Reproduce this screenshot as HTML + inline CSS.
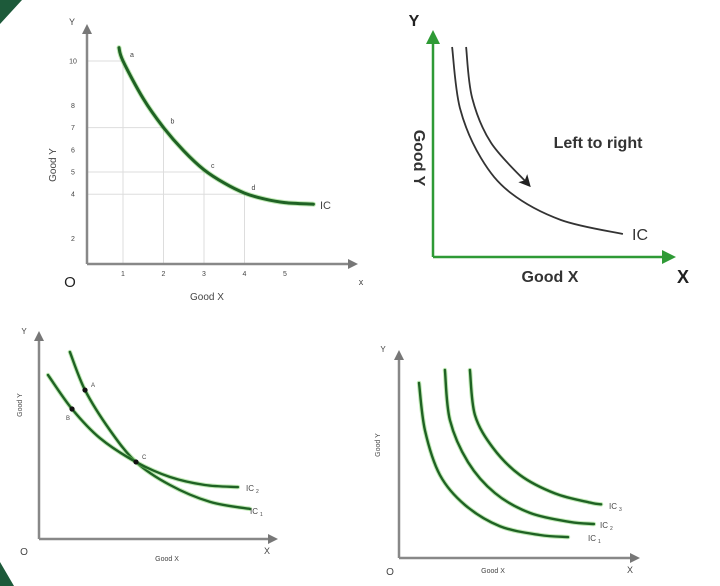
<!DOCTYPE html>
<html><head><meta charset="utf-8">
<style>
html,body{margin:0;padding:0;background:#fff;}
svg{display:block;font-family:"Liberation Sans",sans-serif;}
</style></head>
<body>
<svg id="s" width="720" height="586" viewBox="0 0 720 586" xmlns="http://www.w3.org/2000/svg">
<defs>
<marker id="ag" markerWidth="10" markerHeight="10" refX="6" refY="5" orient="auto" markerUnits="userSpaceOnUse"><path d="M0,0 L10,5 L0,10 z" fill="#777"/></marker>
<marker id="agr" markerWidth="14" markerHeight="14" refX="8" refY="7" orient="auto" markerUnits="userSpaceOnUse"><path d="M0,0 L14,7 L0,14 z" fill="#2e9a35"/></marker>
<marker id="ab" markerWidth="12" markerHeight="12" refX="8" refY="6" orient="auto" markerUnits="userSpaceOnUse"><path d="M0,0 L12,6 L0,12 L3,6 z" fill="#222"/></marker>
</defs>
<polygon points="0,0 22,0 0,24" fill="#1d5a3a"/>
<polygon points="0,562 14,586 0,586" fill="#1d5a3a"/>
<g id="g1"></g>
<g id="g2"></g>
<g id="g3"></g>
<g id="g4"></g>
</svg>
<script>
// Panel 1 data
const p1XTicks=[1,2,3,4,5];
const p1YTicks=[10,8,7,6,5,4,2];
const p1GridX=[1,2,3,4];
const p1GridY=[10,7,5,4];
const p1CurveX=[0.9,1,1.5,2,2.5,3,3.5,4,4.5,5,5.7];
const p1CurveY=[10.6,10,8.3,7.0,5.95,5.1,4.5,4.05,3.78,3.62,3.55];
const p1PointLabels=["a","b","c","d"];
const p1PointX=[1,2,3,4];
const p1PointY=[10,7,5,4];
// Panel 2 data
const p2OuterX=[0.78,1.1,1.96,3.18,5.22,7.75];
const p2OuterY=[9.13,6.48,4.3,2.78,1.61,1.0];
const p2ArrowX=[1.35,1.6,2.37,3.88];
const p2ArrowY=[9.13,6.91,4.96,3.17];
// Panel 3 data
const p3IC1X=[1.31,1.95,3.0,4.11,5.55,7.25,8.94];
const p3IC1Y=[9.08,7.23,5.29,3.74,2.62,1.80,1.46];
const p3IC2X=[0.38,1.4,2.58,4.11,5.55,7.03,8.43];
const p3IC2Y=[7.96,6.31,4.9,3.74,3.01,2.62,2.52];
const p3PointLabels=["A","B","C"];
const p3PointX=[1.95,1.4,4.11];
const p3PointY=[7.23,6.31,3.74];
// Panel 4 data
const p4IC1X=[0.84,1.09,1.72,2.77,4.24,5.92,7.1];
const p4IC1Y=[8.54,6.24,4.05,2.59,1.55,1.12,1.02];
const p4IC2X=[1.93,2.14,2.9,4.03,5.5,7.18,8.19];
const p4IC2Y=[9.17,6.73,4.68,3.17,2.2,1.76,1.66];
const p4IC3X=[2.98,3.19,3.95,5.08,6.55,8.03,8.49];
const p4IC3Y=[9.17,6.98,5.37,4.05,3.15,2.7,2.62];

const NS="http://www.w3.org/2000/svg";
function mk(parent,tag,attrs,text){const e=document.createElementNS(NS,tag);for(const k in attrs)e.setAttribute(k,attrs[k]);if(text!==undefined)e.textContent=text;parent.appendChild(e);return e;}
function smooth(pts){let d="M"+pts[0][0].toFixed(1)+","+pts[0][1].toFixed(1);
 for(let i=0;i<pts.length-1;i++){const p0=pts[i-1]||pts[i],p1=pts[i],p2=pts[i+1],p3=pts[i+2]||p2;
  const c1=[p1[0]+(p2[0]-p0[0])/6,p1[1]+(p2[1]-p0[1])/6],c2=[p2[0]-(p3[0]-p1[0])/6,p2[1]-(p3[1]-p1[1])/6];
  d+=" C"+c1[0].toFixed(1)+","+c1[1].toFixed(1)+" "+c2[0].toFixed(1)+","+c2[1].toFixed(1)+" "+p2[0].toFixed(1)+","+p2[1].toFixed(1);}
 return d;}
function pts(xs,ys,sx,sy){return xs.map((x,i)=>[sx(x),sy(ys[i])]);}
function greenCurve(g,xs,ys,sx,sy,name,w){
 const glow=mk(g,"path",{d:smooth(pts(xs,ys,sx,sy)),fill:"none",stroke:"#7fd36a",'stroke-width':w+2,'stroke-opacity':0.5,'stroke-linecap':'round'});
 
 
 const p=mk(g,"path",{d:smooth(pts(xs,ys,sx,sy)),fill:"none",stroke:"#1f6224",'stroke-width':w,'stroke-linecap':'round'});
 
 
 return p;}
function txt(g,x,y,s,size,attrs,name){const t=mk(g,"text",Object.assign({x:x,y:y,'font-size':size,fill:'#444'},attrs||{}),s);
 
 return t;}
function axes(g,ox,oy,top,right,name){
 const a=mk(g,"path",{d:`M${ox},${oy} L${ox},${top}`,stroke:"#888",'stroke-width':2.5,'marker-end':'url(#ag)',fill:'none'});
 
 
 const b=mk(g,"path",{d:`M${ox},${oy} L${right},${oy}`,stroke:"#888",'stroke-width':2.5,'marker-end':'url(#ag)',fill:'none'});
 
 }

// ---- Panel 1
(function(){const g=document.getElementById("g1");
 const sx=v=>82.5+v*40.5, sy=v=>283-v*22.2, ox=87, oy=264;
 p1GridX.forEach((v,i)=>{const l=mk(g,"line",{x1:sx(v),x2:sx(v),y1:sy(p1PointY[i]),y2:oy,stroke:"#ddd",'stroke-width':1});
  
  });
 p1GridY.forEach((v,i)=>{const l=mk(g,"line",{x1:ox,x2:sx(p1PointX[i]),y1:sy(v),y2:sy(v),stroke:"#ddd",'stroke-width':1});
  
  });
 axes(g,ox,oy,28,354,'p1');
 p1XTicks.forEach(v=>txt(g,sx(v),276,String(v),7,{'text-anchor':'middle'},'x-tick-'+v));
 p1YTicks.forEach(v=>txt(g,73,sy(v)+2.5,String(v),7,{'text-anchor':'middle'},'y-tick-'+v));
 greenCurve(g,p1CurveX,p1CurveY,sx,sy,'ic-curve',3);
 p1PointLabels.forEach((s,i)=>txt(g,sx(p1PointX[i])+7,sy(p1PointY[i])-4,s,7,{},'point-label-'+s));
 txt(g,320,209,"IC",11,{},'ic-label');
 txt(g,72,25,"Y",9,{'text-anchor':'middle'},'y-axis-letter');
 txt(g,361,285,"x",9,{'text-anchor':'middle'},'x-axis-letter');
 txt(g,70,287,"O",15,{'text-anchor':'middle',fill:'#222'},'origin-label');
 txt(g,207,300,"Good X",10,{'text-anchor':'middle'},'x-axis-title');
 txt(g,56,165,"Good Y",10,{'text-anchor':'middle',transform:'rotate(-90 56 165)'},'y-axis-title');
})();
// ---- Panel 2
(function(){const g=document.getElementById("g2");
 const sx=v=>433+v*24.5, sy=v=>257-v*23;
 let a=mk(g,"path",{d:"M433,257 L433,36",stroke:"#2e9a35",'stroke-width':2.5,'marker-end':'url(#agr)',fill:'none'});
 
 
 a=mk(g,"path",{d:"M433,257 L670,257",stroke:"#2e9a35",'stroke-width':2.5,'marker-end':'url(#agr)',fill:'none'});
 
 
 let c=mk(g,"path",{d:smooth(pts(p2OuterX,p2OuterY,sx,sy)),fill:'none',stroke:'#333','stroke-width':1.8});
 
 
 c=mk(g,"path",{d:smooth(pts(p2ArrowX,p2ArrowY,sx,sy)),fill:'none',stroke:'#333','stroke-width':1.8,'marker-end':'url(#ab)'});
 
 
 txt(g,598,148,"Left to right",16,{'text-anchor':'middle',fill:'#333','font-weight':'bold'},'left-to-right-label');
 txt(g,632,240,"IC",16,{fill:'#333'},'ic-label');
 txt(g,550,282,"Good X",16,{'text-anchor':'middle',fill:'#333','font-weight':'bold'},'x-axis-title');
 txt(g,683,283,"X",18,{'text-anchor':'middle',fill:'#222','font-weight':'bold'},'x-axis-letter');
 txt(g,414,26,"Y",16,{'text-anchor':'middle',fill:'#222','font-weight':'bold'},'y-axis-letter');
 txt(g,425,147,"Good Y",16,{'text-anchor':'middle',fill:'#333','font-weight':'bold',transform:'rotate(90 414 147)'},'y-axis-title');
})();
// ---- Panel 3
(function(){const g=document.getElementById("g3");
 const sx=v=>39+v*23.6, sy=v=>539-v*20.6;
 axes(g,39,539,335,274,'p3');
 greenCurve(g,p3IC1X,p3IC1Y,sx,sy,'ic1-curve',2.4);
 greenCurve(g,p3IC2X,p3IC2Y,sx,sy,'ic2-curve',2.4);
 p3PointLabels.forEach((s,i)=>{const d=mk(g,"circle",{cx:sx(p3PointX[i]),cy:sy(p3PointY[i]),r:2.6,fill:'#111'});
  
  
  const off=s==="B"?[-6,11]:[6,-3];
  txt(g,sx(p3PointX[i])+off[0],sy(p3PointY[i])+off[1],s,6,{},'point-label-'+s);});
 txt(g,246,491,"IC",8,{},'ic2-label');txt(g,256,493,"2",5,{},'ic2-sub');
 txt(g,250,514,"IC",8,{},'ic1-label');txt(g,260,516,"1",5,{},'ic1-sub');
 txt(g,167,561,"Good X",7,{'text-anchor':'middle'},'x-axis-title');
 txt(g,267,554,"X",9,{'text-anchor':'middle'},'x-axis-letter');
 txt(g,24,555,"O",10,{'text-anchor':'middle'},'origin-label');
 txt(g,24,334,"Y",8,{'text-anchor':'middle'},'y-axis-letter');
 txt(g,22,405,"Good Y",7,{'text-anchor':'middle',transform:'rotate(-90 22 405)'},'y-axis-title');
})();
// ---- Panel 4
(function(){const g=document.getElementById("g4");
 const sx=v=>399+v*23.8, sy=v=>558-v*20.5;
 axes(g,399,558,354,636,'p4');
 greenCurve(g,p4IC1X,p4IC1Y,sx,sy,'ic1-curve',2.4);
 greenCurve(g,p4IC2X,p4IC2Y,sx,sy,'ic2-curve',2.4);
 greenCurve(g,p4IC3X,p4IC3Y,sx,sy,'ic3-curve',2.4);
 txt(g,588,541,"IC",8,{},'ic1-label');txt(g,598,543,"1",5,{},'ic1-sub');
 txt(g,600,528,"IC",8,{},'ic2-label');txt(g,610,530,"2",5,{},'ic2-sub');
 txt(g,609,509,"IC",8,{},'ic3-label');txt(g,619,511,"3",5,{},'ic3-sub');
 txt(g,493,573,"Good X",7,{'text-anchor':'middle'},'x-axis-title');
 txt(g,630,573,"X",9,{'text-anchor':'middle'},'x-axis-letter');
 txt(g,390,575,"O",10,{'text-anchor':'middle'},'origin-label');
 txt(g,383,352,"Y",8,{'text-anchor':'middle'},'y-axis-letter');
 txt(g,380,445,"Good Y",7,{'text-anchor':'middle',transform:'rotate(-90 380 445)'},'y-axis-title');
})();
</script>
</body></html>
